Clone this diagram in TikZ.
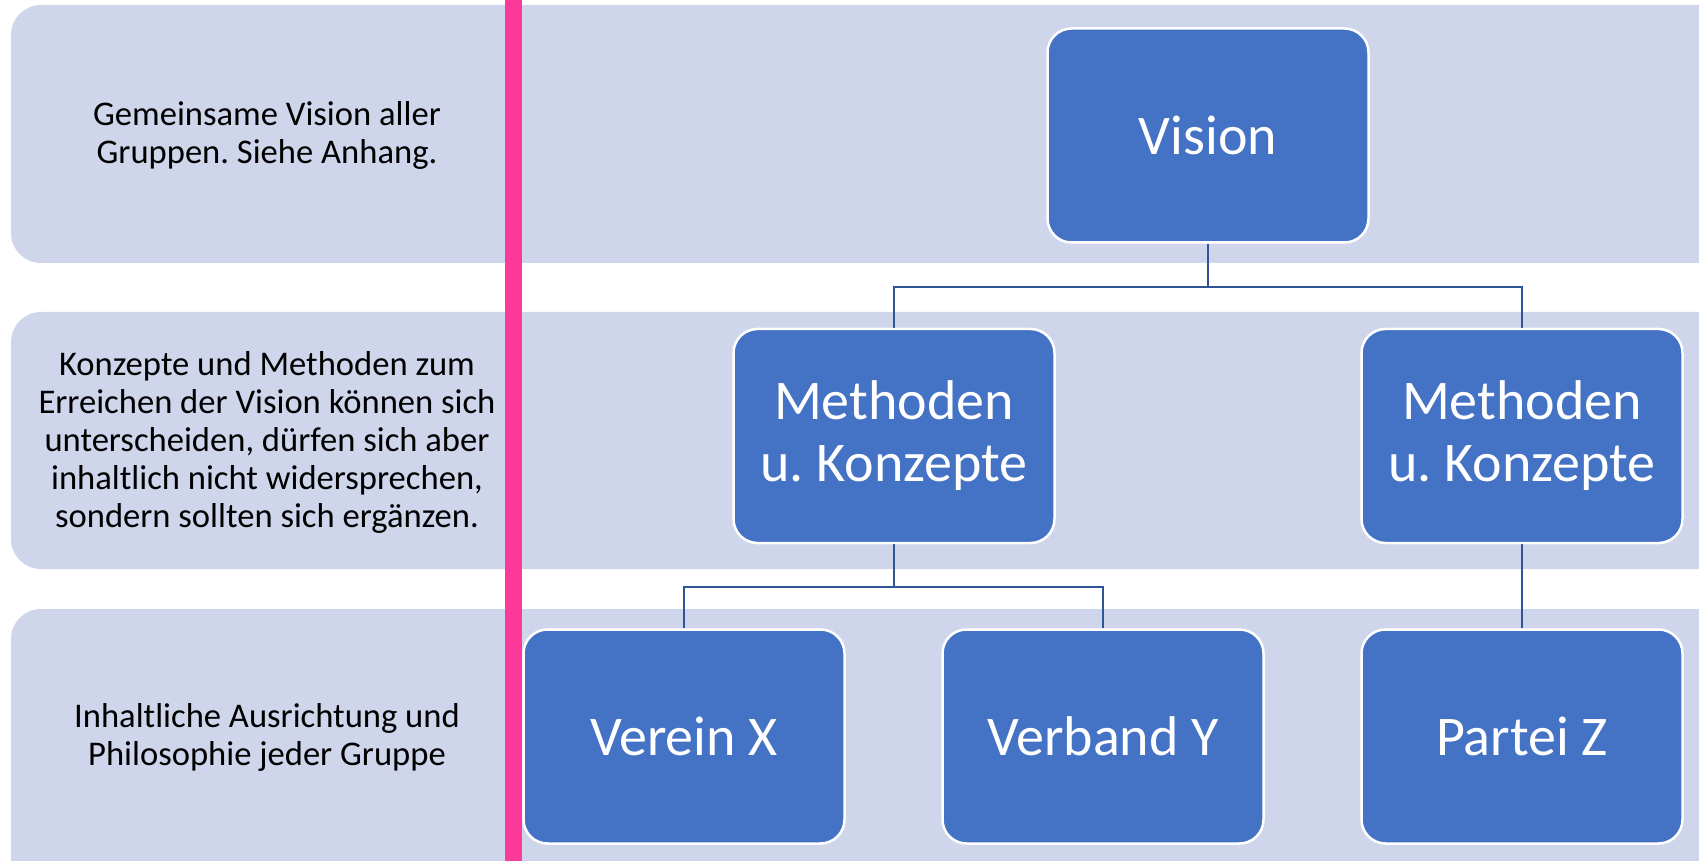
\documentclass[tikz,border=0pt]{standalone}
\usepackage{fontspec}
\setmainfont{Carlito}
\usepackage{tikz}
\usetikzlibrary{positioning}
\frenchspacing

\begin{document}
\begin{tikzpicture}[x=0.5pt,y=-0.5pt]
    \definecolor{myband}{RGB}{207,213,234}
    \definecolor{mybox}{RGB}{68,114,196}
    \definecolor{myline}{RGB}{47,85,151}
    \definecolor{mypink}{RGB}{252,58,154}

    \tikzstyle{band}=[fill=myband,rounded corners=15pt]  % hellblaue Streifen
    \tikzstyle{bandtext}=[align=center,font=\fontsize{17.3}{19}\selectfont]  % Erklaerung links
    \tikzstyle{orgbox}=[rectangle,rounded corners=12pt,draw=white,line width=1.25pt,fill=mybox,
        text=white,align=center,minimum width=160.5pt,minimum height=107pt,
        font=\fontsize{28}{31}\selectfont]  % blaue Kaesten
    \tikzstyle{conn}=[draw=myline,line width=1.2pt]  % Verbindungslinien

    \useasboundingbox (0,0) rectangle (1699,861);

    % Streifen
    \fill[band] (11,5) rectangle (1730,263);
    \fill[band] (11,312) rectangle (1730,569);
    \fill[band] (11,609) rectangle (1730,890);
    \fill[mypink] (505,0) rectangle (522,861);

    % Texte links
    \node[bandtext] (t1) at (267,135) {Gemeinsame Vision aller\\Gruppen. Siehe Anhang.};
    \node[bandtext] (t2) at (267,442) {Konzepte und Methoden zum\\Erreichen der Vision können sich\\unterscheiden, dürfen sich aber\\inhaltlich nicht widersprechen,\\sondern sollten sich ergänzen.};
    \node[bandtext] (t3) at (267,737) {Inhaltliche Ausrichtung und\\Philosophie jeder Gruppe};

    % Kaesten
    \node[orgbox] (vision) at (1208,135.5) {Vision};
    \node[orgbox] (methL) at (894,436) {Methoden\\u. Konzepte};
    \node[orgbox] (methR) at (1522,436) {Methoden\\u. Konzepte};
    \node[orgbox] (verein) at (684,736.5) {Verein X};
    \node[orgbox] (verband) at (1103,736.5) {Verband Y};
    \node[orgbox,below of=methR,node distance=150.25pt] (partei) {Partei Z};

    % Linien
    \draw[conn] (vision.south) -- ++(0,43) -| (methL.north);
    \draw[conn] (vision.south) -- ++(0,43) -| (methR.north);
    \draw[conn] (methL.south) -- ++(0,43) -| (verein.north);
    \draw[conn] (methL.south) -- ++(0,43) -| (verband.north);
    \draw[conn] (methR.south) -- (partei.north);
\end{tikzpicture}
\end{document}
